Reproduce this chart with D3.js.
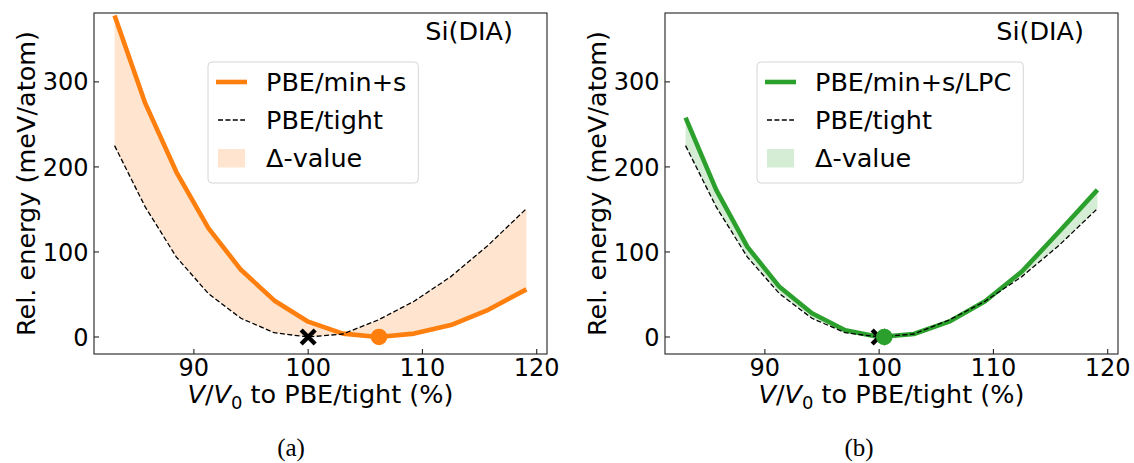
<!DOCTYPE html>
<html>
<head>
<meta charset="utf-8">
<script src="https://cdn.jsdelivr.net/npm/d3@7"></script>
<style>
  html, body { margin: 0; padding: 0; background: #fff; }
  svg { display: block; }
  text { font-family: "DejaVu Sans", sans-serif; fill: #000; }
</style>
</head>
<body>
<svg id="chart" width="1134" height="463"></svg>
<script>
// ---- data ----
const volumes = [83.06, 85.74, 88.47, 91.27, 94.12, 97.03, 100.00, 103.03, 106.12, 109.27, 112.49, 115.76, 119.10];
const pbeTight = [225, 153, 94, 51, 22, 5, 0, 3.5, 20, 42, 71, 108, 151];
const pbeMinS = [378, 275, 194, 128, 79, 43, 18, 4, 0, 4, 14, 32, 56];
const pbeMinSLPC = [258, 173, 106, 59, 28, 8, 0, 3.5, 18, 42, 77, 124, 173];
const tightMin = [100.0, 0];
const minSMin = [106.2, 0];
const lpcMin = [100.45, 0];
const xTicks = [90, 100, 110, 120];
const yTicks = [0, 100, 200, 300];
const xDomain = [81.26, 120.9];
const yDomain = [-20, 381];
const panelLabel = "Si(DIA)";
const captions = ["(a)", "(b)"];
const legendLabelsA = ["PBE/min+s", "PBE/tight", "\u0394-value"];
const legendLabelsB = ["PBE/min+s/LPC", "PBE/tight", "\u0394-value"];

const svg = d3.select("#chart");
svg.append("rect").attr("width", 1134).attr("height", 463).attr("fill", "#fff");

function drawPanel(cfg) {
  const left = cfg.left, right = cfg.left + 453, top = 13, bottom = 354;
  const x = d3.scaleLinear().domain(xDomain).range([left, right]);
  const y = d3.scaleLinear().domain(yDomain).range([bottom, top]);
  const g = svg.append("g");
  const clipId = "clip" + cfg.id;
  svg.append("clipPath").attr("id", clipId)
    .append("rect").attr("x", left).attr("y", top).attr("width", right - left).attr("height", bottom - top);

  const plot = g.append("g").attr("clip-path", `url(#${clipId})`);
  const rows = volumes.map((v, i) => ({ v, a: cfg.series[i], b: pbeTight[i] }));

  // fill between
  plot.append("path").datum(rows)
    .attr("d", d3.area().x(d => x(d.v)).y0(d => y(d.b)).y1(d => y(d.a)))
    .attr("fill", cfg.fill).attr("stroke", "none");

  // main line
  plot.append("path").datum(rows)
    .attr("d", d3.line().x(d => x(d.v)).y(d => y(d.a)))
    .attr("fill", "none").attr("stroke", cfg.color).attr("stroke-width", 4.6)
    .attr("stroke-linejoin", "round");

  // dashed reference
  plot.append("path").datum(rows)
    .attr("d", d3.line().x(d => x(d.v)).y(d => y(d.b)))
    .attr("fill", "none").attr("stroke", "#000").attr("stroke-width", 1.3)
    .attr("stroke-dasharray", "5,2.4");

  // X marker at tight minimum
  const mx = x(tightMin[0]), my = y(tightMin[1]), s = 7;
  plot.append("path")
    .attr("d", `M${mx - s},${my - s}L${mx + s},${my + s}M${mx - s},${my + s}L${mx + s},${my - s}`)
    .attr("stroke", "#000").attr("stroke-width", 4.4).attr("fill", "none");

  // circle marker
  plot.append("circle").attr("cx", x(cfg.minPt[0])).attr("cy", y(cfg.minPt[1]))
    .attr("r", 8.3).attr("fill", cfg.color);

  // frame
  g.append("rect").attr("x", left).attr("y", top).attr("width", right - left).attr("height", bottom - top)
    .attr("fill", "none").attr("stroke", "#222").attr("stroke-width", 1.1);

  // ticks (inward)
  xTicks.forEach(t => {
    g.append("line").attr("x1", x(t)).attr("x2", x(t)).attr("y1", bottom).attr("y2", bottom - 5)
      .attr("stroke", "#222").attr("stroke-width", 1.1);
    g.append("text").attr("x", x(t)).attr("y", 376).attr("text-anchor", "middle")
      .style("font-size", "24px").text(t);
  });
  yTicks.forEach(t => {
    g.append("line").attr("x1", left).attr("x2", left + 5).attr("y1", y(t)).attr("y2", y(t))
      .attr("stroke", "#222").attr("stroke-width", 1.1);
    g.append("text").attr("x", left - 5.5).attr("y", y(t) + 8.6).attr("text-anchor", "end")
      .style("font-size", "24px").text(t);
  });

  // x label
  const xl = g.append("text").attr("x", (left + right) / 2).attr("y", 403)
    .attr("text-anchor", "middle").style("font-size", "25.5px");
  xl.append("tspan").style("font-style", "italic").text("V");
  xl.append("tspan").text("/");
  xl.append("tspan").style("font-style", "italic").text("V");
  xl.append("tspan").attr("dy", 6).style("font-size", "18px").text("0");
  xl.append("tspan").attr("dy", -6).text(" to PBE/tight (%)");

  // y label
  g.append("text").attr("transform", `translate(${left - 68},${(top + bottom) / 2}) rotate(-90)`)
    .attr("text-anchor", "middle").attr("dominant-baseline", "central")
    .style("font-size", "25.5px").text("Rel. energy (meV/atom)");

  // panel label
  g.append("text").attr("x", right - 34).attr("y", 39.5).attr("text-anchor", "end")
    .style("font-size", "25.5px").text(panelLabel);

  // legend
  const lg = g.append("g");
  const box = lg.append("rect");
  const lx = left + cfg.legendOffset, ly = 62;
  const rowsY = [82, 120, 158];
  let maxW = 0;
  cfg.legendLabels.forEach((lab, i) => {
    const t = lg.append("text").attr("x", lx + 58).attr("y", rowsY[i] + 9.2)
      .style("font-size", "25.5px").text(lab);
    maxW = Math.max(maxW, t.node().getComputedTextLength());
  });
  box.attr("x", lx).attr("y", ly).attr("width", 58 + maxW + 12).attr("height", 121)
    .attr("rx", 4).attr("ry", 4).attr("fill", "#fff").attr("fill-opacity", 0.85)
    .attr("stroke", "#d6d6d6").attr("stroke-width", 1);
  lg.append("line").attr("x1", lx + 8).attr("x2", lx + 39).attr("y1", rowsY[0]).attr("y2", rowsY[0])
    .attr("stroke", cfg.color).attr("stroke-width", 4.6);
  lg.append("line").attr("x1", lx + 10).attr("x2", lx + 37).attr("y1", rowsY[1]).attr("y2", rowsY[1])
    .attr("stroke", "#000").attr("stroke-width", 1.3).attr("stroke-dasharray", "5,2.4");
  lg.append("rect").attr("x", lx + 10).attr("y", rowsY[2] - 9).attr("width", 27).attr("height", 18.5)
    .attr("fill", cfg.fill);

  // caption
  svg.append("text").attr("x", cfg.captionX).attr("y", 456).attr("text-anchor", "middle")
    .style("font-family", "'Liberation Serif', serif").style("font-size", "25px").text(cfg.caption);
}

drawPanel({ id: "a", left: 94, series: pbeMinS, color: "#ff7f0e", fill: "#ffe5cf",
  minPt: minSMin, legendLabels: legendLabelsA, legendOffset: 114, caption: captions[0], captionX: 291 });
drawPanel({ id: "b", left: 665, series: pbeMinSLPC, color: "#2ca02c", fill: "#d5ecd5",
  minPt: lpcMin, legendLabels: legendLabelsB, legendOffset: 92, caption: captions[1], captionX: 859 });
</script>
</body>
</html>
